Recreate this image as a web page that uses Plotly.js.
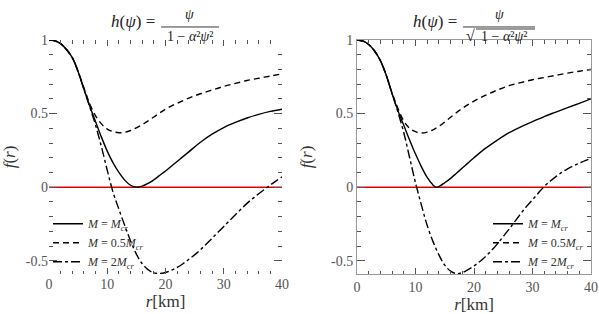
<!DOCTYPE html>
<html>
<head>
<meta charset="utf-8">
<script src="https://cdn.plot.ly/plotly-3.0.1.min.js"></script>
</head>
<body style="margin:0;background:#fff">
<div id="chart" style="width:599px;height:314px;position:relative"></div>
<script>
// ---- data ----
const seriesNames = ["<i>M</i> = <i>M</i><sub><i>cr</i></sub>", "<i>M</i> = 0.5<i>M</i><sub><i>cr</i></sub>", "<i>M</i> = 2<i>M</i><sub><i>cr</i></sub>"];

// left panel: h(psi) = psi/(1 - a^2 psi^2)
const rL_cr   = [0,1,2,3,4,5,6,7,8,9,10,11,12,13,14,15,16,17,18,19,20,22,24,26,28,30,32,34,36,38,40];
const fL_cr   = [1,0.995,0.975,0.935,0.88,0.785,0.665,0.55,0.445,0.34,0.245,0.165,0.1,0.048,0.013,0.0,0.007,0.025,0.05,0.08,0.11,0.175,0.24,0.305,0.36,0.405,0.44,0.47,0.495,0.515,0.53];
const rL_half = [0,1,2,3,4,5,6,7,8,9,10,11,12,13,14,16,18,20,22,24,26,28,30,32,34,36,38,40];
const fL_half = [1,0.995,0.975,0.935,0.88,0.785,0.675,0.565,0.485,0.43,0.395,0.377,0.37,0.373,0.385,0.425,0.477,0.53,0.57,0.605,0.635,0.66,0.685,0.705,0.725,0.74,0.755,0.77];
const rL_two  = [0,1,2,3,4,5,6,7,8,9,10,11,12,13,14,15,16,17,18,19,20,21,22,23,24,25,26,27,28,29,30,31,32,33,34,35,36,37,38,39,40];
const fL_two  = [1,0.995,0.975,0.935,0.88,0.785,0.665,0.545,0.42,0.275,0.115,-0.035,-0.15,-0.26,-0.365,-0.455,-0.52,-0.56,-0.582,-0.587,-0.58,-0.565,-0.545,-0.52,-0.49,-0.46,-0.425,-0.387,-0.347,-0.307,-0.267,-0.227,-0.187,-0.148,-0.11,-0.076,-0.045,-0.015,0.015,0.043,0.07];

// right panel: h(psi) = psi/sqrt(1 - a^2 psi^2)
const rR_cr   = [0,1,2,3,4,5,6,7,8,9,10,11,12,13,13.5,14,15,16,17,18,19,20,22,24,26,28,30,32,34,36,38,40];
const fR_cr   = [1,0.993,0.97,0.925,0.86,0.76,0.635,0.52,0.42,0.32,0.225,0.14,0.066,0.014,0.0,0.004,0.03,0.06,0.095,0.13,0.165,0.2,0.265,0.32,0.37,0.41,0.445,0.48,0.51,0.54,0.57,0.6];
const rR_half = [0,1,2,3,4,5,6,7,8,9,10,11,12,13,14,16,18,20,22,24,26,28,30,32,34,36,38,40];
const fR_half = [1,0.993,0.97,0.925,0.86,0.76,0.64,0.535,0.45,0.4,0.377,0.368,0.374,0.39,0.413,0.475,0.535,0.585,0.625,0.66,0.69,0.71,0.73,0.745,0.76,0.775,0.788,0.8];
const rR_two  = [0,1,2,3,4,5,6,7,8,9,10,11,12,13,14,15,16,17,18,19,20,21,22,23,24,25,26,27,28,29,30,31,32,33,34,35,36,37,38,39,40];
const fR_two  = [1,0.993,0.97,0.925,0.86,0.76,0.635,0.51,0.37,0.2,0.03,-0.12,-0.26,-0.37,-0.46,-0.53,-0.57,-0.587,-0.58,-0.56,-0.535,-0.505,-0.47,-0.43,-0.385,-0.335,-0.285,-0.232,-0.18,-0.13,-0.085,-0.04,0.005,0.04,0.072,0.1,0.125,0.145,0.162,0.18,0.195];

const zeroX = [0, 40];
const zeroY = [0, 0];

const xTickVals = [0, 10, 20, 30, 40];
const xTickText = ["0", "10", "20", "30", "40"];
const yTickVals = [-0.5, 0, 0.5, 1];
const yTickText = ["-0.5", "0", "0.5", "1"];

// ---- layout helpers ----
const W = 599, H = 314;
const ML = 49, MR = 8, MT = 40, MB = 40.3;
const PW = W - ML - MR, PH = H - MT - MB;
const px = v => (v - ML) / PW;
const py = v => (H - MB - v) / PH;

const serif = "Liberation Serif";
const tickCol = "#555";
const dashStyles = ["solid", "6px,4px", "dashdot"];

function mk(x, y, i, xa, ya, legend) {
  return {x: x, y: y, type: "scatter", mode: "lines", name: seriesNames[i],
    xaxis: xa, yaxis: ya, legend: legend,
    line: {color: "#000", width: 1.4, dash: dashStyles[i], shape: "spline"}};
}

function xax(domain, framed, anchor) {
  return {domain: domain, anchor: anchor, range: [0, 40], tickmode: "array", tickvals: xTickVals, ticktext: xTickText,
    ticks: "inside", ticklen: 6, tickcolor: tickCol, tickwidth: 1,
    minor: {dtick: 2, tick0: 0, ticks: "inside", ticklen: 3.5, tickcolor: tickCol, tickwidth: 1, showgrid: false},
    showline: framed, linecolor: "#999", linewidth: 1, mirror: "allticks",
    showgrid: false, zeroline: false, tickfont: {family: serif, size: 14, color: "#555"},
    title: {text: "<i>r</i>[km]", font: {family: serif, size: 17, color: "#333"}, standoff: 2}};
}
function yax(anchor, framed) {
  return {domain: [0, 1], anchor: anchor, range: [-0.59, 1.0], tickmode: "array", tickvals: yTickVals, ticktext: yTickText,
    ticks: "inside", ticklen: 8, tickcolor: tickCol, tickwidth: 1,
    minor: {dtick: 0.1, tick0: 0, ticks: "inside", ticklen: 4, tickcolor: tickCol, tickwidth: 1, showgrid: false},
    showline: framed, linecolor: "#999", linewidth: 1, mirror: "allticks",
    showgrid: false, zeroline: false, tickfont: {family: serif, size: 14, color: "#555"},
    title: {text: "<i>f</i>(<i>r</i>)", font: {family: serif, size: 17, color: "#333"}, standoff: 14}};
}

const traces = [
  {x: zeroX, y: zeroY, type: "scatter", mode: "lines", xaxis: "x", yaxis: "y", showlegend: false, line: {color: "#e00000", width: 1.5}},
  {x: zeroX, y: zeroY, type: "scatter", mode: "lines", xaxis: "x2", yaxis: "y2", showlegend: false, line: {color: "#e00000", width: 1.5}},
  mk(rL_cr, fL_cr, 0, "x", "y", "legend"),
  mk(rL_half, fL_half, 1, "x", "y", "legend"),
  mk(rL_two, fL_two, 2, "x", "y", "legend"),
  mk(rR_cr, fR_cr, 0, "x2", "y2", "legend2"),
  mk(rR_half, fR_half, 1, "x2", "y2", "legend2"),
  mk(rR_two, fR_two, 2, "x2", "y2", "legend2")
];

const layout = {width: W, height: H, margin: {l: ML, r: MR, t: MT, b: MB, pad: 0},
  xaxis: xax([px(49), px(282)], false, "y"), yaxis: yax("x", false),
  xaxis2: xax([px(357), px(591)], true, "y2"), yaxis2: yax("x2", true),
  legend: {x: px(48), y: py(276), xanchor: "left", yanchor: "bottom", bgcolor: "rgba(255,255,255,0)", font: {family: serif, size: 12, color: "#333"}},
  legend2: {x: px(590), y: py(276), xanchor: "right", yanchor: "bottom", bgcolor: "rgba(255,255,255,0)", font: {family: serif, size: 12, color: "#333"}}
};

const tf = {family: serif, size: 17, color: "#222"};
const ff = {family: serif, size: 14, color: "#222"};
function ann(text, x, y, font) {
  return {text: text, xref: "paper", yref: "paper", x: px(x), y: py(y), xanchor: "center", yanchor: "middle", showarrow: false, font: font};
}
function hline(x0, x1, y) {
  return {type: "line", xref: "paper", yref: "paper", x0: px(x0), x1: px(x1), y0: py(y), y1: py(y), line: {color: "#222", width: 0.9}};
}
const titleAnnotations = [
  ann("<i>h</i>(<i>ψ</i>) =", 133, 22, tf),
  ann("<i>ψ</i>", 190, 15, ff),
  ann("1 − <i>α</i>²<i>ψ</i>²", 190, 37, ff),
  ann("<i>h</i>(<i>ψ</i>) =", 435, 22, tf),
  ann("<i>ψ</i>", 499, 15, ff),
  ann("√", 470, 36, {family: serif, size: 16, color: "#222"}),
  ann("1 − <i>α</i>²<i>ψ</i>²", 504, 37, ff)
];
const titleShapes = [
  hline(161, 219, 27),
  hline(463, 535, 27),
  hline(476, 535, 29)
];

Plotly.newPlot("chart", traces, layout, {displayModeBar: false}).then(function(gd) {
  return Plotly.relayout(gd, {annotations: titleAnnotations, shapes: titleShapes});
});
</script>
</body>
</html>
